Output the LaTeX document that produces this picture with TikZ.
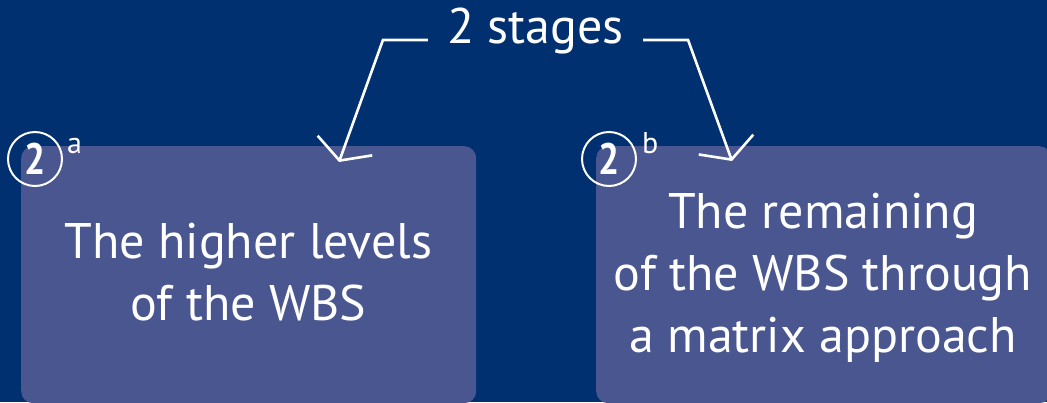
\documentclass[tikz,border=0pt]{standalone}
\usepackage{fontspec}
\setmainfont{PT Sans}
\usetikzlibrary{arrows.meta}
\definecolor{bgblue}{RGB}{0,48,112}
\definecolor{boxblue}{RGB}{74,86,143}
\begin{document}
\begin{tikzpicture}[x=1pt,y=-1pt,
  stagebox/.style={fill=boxblue, rounded corners=12pt, draw=none, minimum width=455pt, minimum height=257pt, anchor=north west, inner sep=0pt},
  bodytext/.style={text=white, align=center, font=\fontsize{50}{62}\selectfont, inner sep=0pt, anchor=north},
  numcircle/.style={circle, draw=white, line width=2pt, minimum size=54pt, inner sep=0pt, text=white, font=\bfseries\fontsize{44}{44}\selectfont},
  suplabel/.style={text=white, font=\fontsize{30}{30}\selectfont, inner sep=0pt, anchor=base west},
  bracket/.style={draw=white, line width=2.6pt, line join=miter, -{Straight Barb[length=16pt,width=58pt]}}
]
\fill[bgblue] (0,0) rectangle (1047,402);
\useasboundingbox (0,0) rectangle (1047,402);
\node[stagebox] (boxA) at (21,146) {};
\node[stagebox] (boxB) at (596,146) {};
\node[bodytext] (txtA) at (248.5,223) {The higher levels\\of the WBS};
\node[bodytext] (txtB) at (823,193) {The remaining\\of the WBS through\\a matrix approach};
\node[numcircle] (cA) at (35,159) {\scalebox{0.85}[1]{2}};
\node[suplabel] (supA) at (67,153) {a};
\node[numcircle] (cB) at (609,159) {\scalebox{0.85}[1]{2}};
\node[suplabel] (supB) at (642,153) {b};
\node[text=white, font=\fontsize{50}{50}\selectfont, inner xsep=19pt, inner ysep=0pt, anchor=base] (stages) at (535.5,43) {2 stages};
\coordinate (tipA) at (339,162);
\coordinate (tipB) at (732,161);
\draw[bracket] ([yshift=3pt]stages.base west) -- ++(-45,0) -- (tipA);
\draw[bracket] ([yshift=3pt]stages.base east) -- ++(45,0) -- (tipB);
\end{tikzpicture}
\end{document}
